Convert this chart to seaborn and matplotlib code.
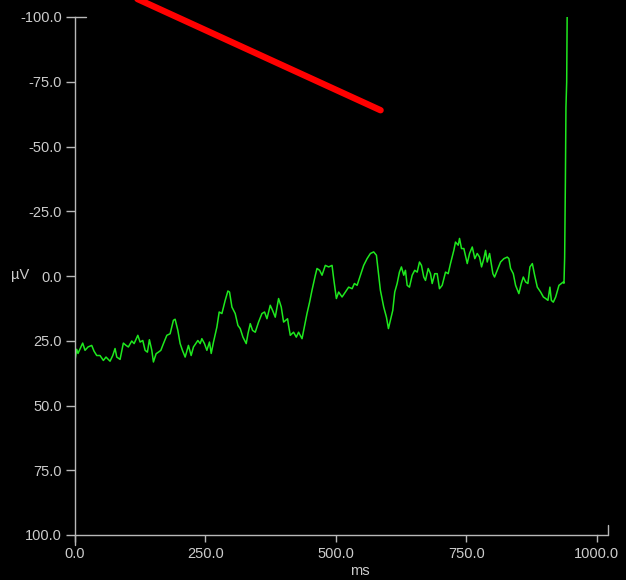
import numpy as np
import pandas as pd
import seaborn as sns
import matplotlib.pyplot as plt

# averaged trace (ms, uV; y axis is inverted)
time_ms = [0.0, 3.8, 6.3, 15.3, 19.8, 25.5, 32.6, 37.0, 42.2, 48.5,
           54.9, 60.0, 67.7, 72.9, 77.3, 80.6, 86.9, 93.2, 98.4, 102.8,
           109.3, 113.8, 120.9, 125.3, 130.4, 134.9, 139.3, 143.1, 147.7, 150.8,
           156.0, 160.4, 165.0, 170.0, 176.5, 182.8, 189.1, 192.4, 197.6, 202.0,
           206.4, 211.6, 217.9, 223.1, 227.5, 235.9, 240.4, 243.6, 248.6, 253.2,
           258.2, 261.5, 265.9, 272.4, 276.8, 282.0, 288.3, 293.5, 296.6, 301.2,
           307.5, 312.7, 317.1, 322.3, 328.6, 331.9, 336.3, 340.7, 345.9, 352.2,
           358.7, 363.7, 368.3, 374.6, 379.1, 384.2, 390.6, 395.7, 400.2, 407.8,
           409.7, 413.0, 419.3, 424.5, 428.9, 435.5, 439.9, 445.0, 450.0, 454.6,
           461.0, 464.2, 469.2, 473.8, 480.1, 486.5, 493.0, 496.1, 501.3, 505.7,
           512.2, 518.5, 524.8, 531.4, 535.8, 541.0, 547.3, 553.6, 560.1, 566.5,
           572.8, 578.0, 581.2, 585.6, 592.0, 597.2, 601.0, 604.8, 609.3, 613.1,
           617.7, 622.1, 625.9, 630.4, 633.6, 636.9, 641.3, 646.5, 651.4, 656.1,
           660.5, 664.3, 668.7, 672.0, 677.2, 681.6, 684.8, 689.8, 694.4, 698.8,
           704.0, 710.4, 715.5, 719.9, 726.3, 729.5, 734.7, 737.2, 741.0, 745.5,
           752.0, 756.4, 761.6, 766.5, 771.1, 775.6, 779.4, 783.8, 787.1, 790.3,
           794.8, 798.6, 801.1, 804.3, 809.5, 815.8, 822.2, 828.7, 831.8, 835.0,
           840.2, 844.6, 850.9, 855.5, 859.4, 863.8, 868.2, 872.1, 876.7, 881.1,
           886.2, 892.6, 897.8, 902.2, 906.6, 910.4, 913.1, 916.9, 921.4, 927.7,
           932.3, 936.1, 937.3, 938.6, 940.0, 941.1, 942.5, 943.4]
amp_uv = [33.4, 28.3, 29.9, 25.9, 28.7, 27.4, 26.8, 29.0, 30.7, 30.7,
          32.6, 31.3, 32.9, 30.7, 28.0, 31.3, 32.2, 25.9, 26.8, 27.4,
          25.1, 26.1, 22.9, 25.5, 24.9, 28.7, 29.4, 24.6, 28.7, 33.2,
          30.0, 29.4, 28.7, 26.1, 22.9, 22.3, 17.1, 16.7, 21.0, 26.1,
          28.7, 31.3, 26.8, 30.7, 27.4, 24.9, 26.1, 24.2, 26.1, 28.7,
          25.5, 29.9, 25.5, 19.7, 13.9, 14.5, 9.4, 5.8, 6.2, 12.0,
          14.5, 19.1, 20.3, 23.6, 26.1, 22.3, 18.4, 21.0, 21.7, 17.8,
          14.5, 13.9, 16.5, 11.3, 13.3, 15.9, 8.7, 12.0, 17.8, 16.5,
          19.1, 22.9, 21.7, 23.6, 21.7, 24.2, 19.7, 14.5, 10.1, 5.5,
          -0.3, -2.9, -2.2, -0.3, -4.1, -3.5, -4.1, 1.0, 8.7, 6.2,
          8.1, 6.2, 4.3, 4.9, 2.9, 3.6, -0.3, -4.1, -6.7, -8.7,
          -9.3, -8.0, -2.2, 5.5, 12.0, 15.9, 20.3, 17.1, 13.3, 6.2,
          2.9, -1.5, -3.5, -0.3, -2.2, 3.6, 4.3, -0.3, -2.2, -1.5,
          -5.4, -4.1, 0.4, 1.7, -2.9, -0.9, 2.9, -0.9, -0.9, 4.9,
          3.6, -1.5, -0.9, -4.8, -9.9, -13.1, -11.9, -14.5, -10.6, -10.6,
          -4.8, -8.7, -11.2, -6.7, -8.7, -7.3, -3.5, -6.7, -9.9, -5.4,
          -8.7, -4.1, -0.9, 0.4, -2.2, -5.4, -6.7, -7.3, -6.7, -2.9,
          -0.9, 3.6, 6.8, 2.9, 0.4, 2.3, 2.9, -3.5, -4.8, -0.3,
          4.3, 6.2, 8.1, 8.7, 9.4, 4.3, 9.4, 10.1, 8.1, 3.6,
          2.9, 2.3, 2.8, -7.2, -36.2, -65.2, -74.9, -100.0]

# red marker line (runs off the top of the figure)
red_ms = [60.0, 586.0]
red_uv = [-112.5, -64.0]

x_ticks = [0, 250, 500, 750, 1000]
y_ticks = [-100, -75, -50, -25, 0, 25, 50, 75, 100]

trace = pd.DataFrame({'ms': time_ms, 'uV': amp_uv})
marker = pd.DataFrame({'ms': red_ms, 'uV': red_uv})

sns.set_theme(style='dark')
plt.rcParams['font.family'] = ['Liberation Sans', 'DejaVu Sans']
axis_col = '#b8b8b8'
text_col = '#cccccc'

fig = plt.figure(figsize=(6.26, 5.8), dpi=100, facecolor='black')
ax = fig.add_axes([74.7 / 626, 45 / 580, 522 / 626, 518 / 580])
ax.set_facecolor('black')

sns.lineplot(data=trace, x='ms', y='uV', ax=ax, color='#1ee81e',
             linewidth=1.1, estimator=None, sort=False)
sns.lineplot(data=marker, x='ms', y='uV', ax=ax, color='#ff0000',
             linewidth=4.6, estimator=None, sort=False, clip_on=False)

ax.set_xlim(0, 1000)
ax.set_ylim(100, -100)
ax.set_xticks(x_ticks)
ax.set_yticks(y_ticks)
ax.set_xticklabels([f'{v:.1f}' for v in x_ticks])
ax.set_yticklabels([f'{v:.1f}' for v in y_ticks])
ax.grid(False)

for side in ['top', 'right']:
    ax.spines[side].set_visible(False)
for side in ['left', 'bottom']:
    ax.spines[side].set_color(axis_col)
    ax.spines[side].set_linewidth(1.0)

ax.tick_params(axis='y', direction='out', length=6.5, width=1.0, color=axis_col,
               labelcolor=text_col, labelsize=10.5, pad=2.5, left=True)
ax.tick_params(axis='x', direction='out', length=5, width=1.0, color=axis_col,
               labelcolor=text_col, labelsize=10.5, pad=4, bottom=True)

# axis end caps / extensions like the original scope display
tr = ax.transAxes
ax.plot([0, 0], [0, -0.0193], transform=tr, color=axis_col, lw=1.0, clip_on=False)
ax.plot([0, 0.021], [1, 1], transform=tr, color=axis_col, lw=1.0, clip_on=False)
ax.plot([1, 1.0222], [0, 0], transform=tr, color=axis_col, lw=1.0, clip_on=False)
ax.plot([1.0222, 1.0222], [0, 0.0193], transform=tr, color=axis_col, lw=1.0, clip_on=False)

ax.set_xlabel('ms', color=text_col, fontsize=10.5, va='center')
ax.xaxis.set_label_coords(0.5466, -0.0695)
ax.set_ylabel('µV', color=text_col, fontsize=10.5, rotation=0, va='center', ha='center')
ax.yaxis.set_label_coords(-0.105, 0.502)

fig.savefig('out.png', dpi=100, facecolor='black')
